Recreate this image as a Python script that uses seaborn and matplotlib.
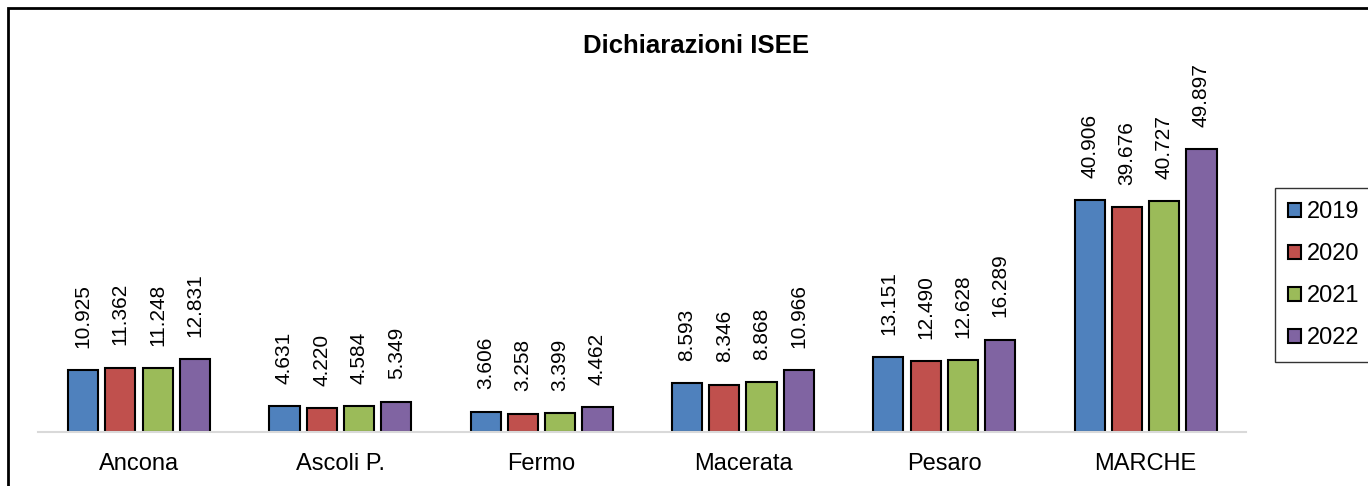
import pandas as pd
import seaborn as sns
import matplotlib.pyplot as plt
from matplotlib.patches import Rectangle

# Data
provinces = ['Ancona', 'Ascoli P.', 'Fermo', 'Macerata', 'Pesaro', 'MARCHE']
years = ['2019', '2020', '2021', '2022']
v2019 = [10.925, 4.631, 3.606, 8.593, 13.151, 40.906]
v2020 = [11.362, 4.220, 3.258, 8.346, 12.490, 39.676]
v2021 = [11.248, 4.584, 3.399, 8.868, 12.628, 40.727]
v2022 = [12.831, 5.349, 4.462, 10.966, 16.289, 49.897]
colors = ['#4F81BD', '#C0504D', '#9BBB59', '#8064A2']

# long format dataframe for seaborn
rows = []
for year, vals in zip(years, [v2019, v2020, v2021, v2022]):
    for p, v in zip(provinces, vals):
        rows.append({'Provincia': p, 'Anno': year, 'Valore': v})
df = pd.DataFrame(rows)

sns.set_style('white')
plt.rcParams['font.family'] = ['Liberation Sans', 'DejaVu Sans']
plt.rcParams['text.color'] = 'black'
plt.rcParams['xtick.color'] = 'black'

fig = plt.figure(figsize=(13.68, 4.86), dpi=100)
ax = fig.add_axes([0.028, 0.111, 0.883, 0.759])

sns.barplot(data=df, x='Provincia', y='Valore', hue='Anno', palette=colors,
            width=0.74, gap=0.19, edgecolor='black', linewidth=1.5,
            saturation=1, errorbar=None, ax=ax)

# data labels
for cont in ax.containers:
    labels = ['{:.3f}'.format(b.get_height()) for b in cont]
    ax.bar_label(cont, labels=labels, rotation=90, padding=16, fontsize=15)

ax.set_ylim(0, 65)
ax.set_xlim(-0.5, 5.5)
ax.set_xlabel('')
ax.set_ylabel('')
ax.set_yticks([])
ax.tick_params(axis='x', length=0, labelsize=17, pad=15)
for s in ['top', 'left', 'right']:
    ax.spines[s].set_visible(False)
ax.spines['bottom'].set_color('#d9d9d9')
ax.spines['bottom'].set_linewidth(1.5)

# legend on the right
handles, lbls = ax.get_legend_handles_labels()
ax.legend(handles, lbls, loc='center left', bbox_to_anchor=(1.024, 0.425),
          borderaxespad=0, fontsize=17, frameon=True, edgecolor='black',
          fancybox=False, handlelength=0.55, handleheight=0.55,
          handletextpad=0.25, labelspacing=0.85, borderpad=0.55)
ax.get_legend().get_frame().set_linewidth(1.0)

fig.text(0.509, 0.905, 'Dichiarazioni ISEE', ha='center', va='center',
         fontsize=18.5, fontweight='bold')

# outer chart frame
fig.patches.append(Rectangle((8 / 1368, -0.05), 1.1, 0.05 + 1 - 8 / 486,
                             transform=fig.transFigure, fill=False,
                             edgecolor='black', linewidth=2))

fig.savefig('out.png', dpi=100)
